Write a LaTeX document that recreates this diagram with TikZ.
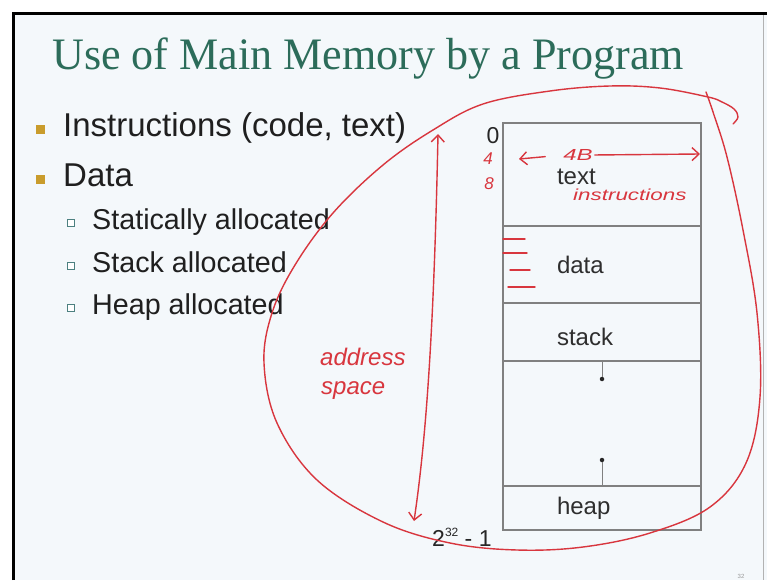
\documentclass[tikz,border=0pt]{standalone}
\usepackage{graphicx}
\usepackage{fontspec}
\setmainfont{Liberation Sans}
\newfontfamily\titlefont{Liberation Serif}
\usetikzlibrary{positioning,arrows.meta}
\definecolor{slidebg}{RGB}{244,248,251}
\definecolor{titlegreen}{RGB}{44,108,90}
\definecolor{bulletgold}{RGB}{201,156,44}
\definecolor{boxgray}{RGB}{128,128,128}
\definecolor{inkred}{RGB}{216,54,62}
\tikzset{
	slide text/.style={anchor=base west, inner sep=0pt, text=black!88},
	item/.style={slide text, font=\fontsize{33}{33}\selectfont},
	subitem/.style={slide text, font=\fontsize{28.7}{28.7}\selectfont},
	mark main/.style={fill=bulletgold, minimum size=9pt, inner sep=0pt},
	mark sub/.style={draw=gray!60!teal, fill=white, minimum size=7.5pt, inner sep=0pt, line width=1pt},
	segment/.style={draw=boxgray, line width=1.1pt, minimum width=198pt,
		text width=90pt, inner xsep=54pt, inner ysep=0pt, outer sep=0pt,
		align=left, font=\fontsize{24}{24}\selectfont, text=black!82},
	growth dot/.style={circle, fill=black!85, minimum size=4.5pt, inner sep=0pt},
	addr/.style={inner sep=0pt, text=black!85, font=\fontsize{23}{23}\selectfont},
	ink/.style={draw=inkred, line width=1.4pt, line cap=round, line join=round},
	hand/.style={text=inkred, inner sep=0pt, font=\itshape\fontsize{#1}{#1}\selectfont},
	hand/.default=18,
	barb/.tip={Straight Barb[length=7pt,width=13pt]}
}

\begin{document}
\begin{tikzpicture}[x=1pt, y=-1pt]
  \useasboundingbox (0,0) rectangle (767,580);
  % slide
  \fill[slidebg] (14,13) rectangle (767,580);
  \draw[black!30, line width=0.6pt] (763,14) -- (763,580);
  \draw[line width=2.6pt] (13.5,580) -- (13.5,13.3) -- (767,13.3);
  \node[anchor=base west, inner sep=0pt, text=titlegreen,
        font=\titlefont\fontsize{45}{45}\selectfont] (title) at (52,70)
        {\scalebox{0.98}[1]{Use of Main Memory by a Program}};

  % bullets
  \node[item] (itemcode) at (63,137) {Instructions (code, text)};
  \node[item] (itemdata) at (63,186) {Data};
  \node[subitem] (substatic) at (92,229) {Statically allocated};
  \node[subitem] (substack)  at (92,272) {Stack allocated};
  \node[subitem] (subheap)   at (92,314) {Heap allocated};
  \node[mark main] (markcode) at (40,130) {};
  \node[mark main] (markdata) at (40,179) {};
  \foreach \y/\n in {223/static, 266/stack, 308/heap}
    \node[mark sub] (mark\n) at (71,\y) {};

  % memory layout
  \node[segment, anchor=north west, minimum height=103pt] (textseg) at (503,123) {\rule{0pt}{21pt}text};
  \node[segment, minimum height=77pt, below=0pt of textseg] (dataseg) {data};
  \node[segment, minimum height=58pt, below=0pt of dataseg] (stackseg) {\rule{0pt}{27.5pt}stack};
  \node[segment, minimum height=125pt, below=0pt of stackseg] (freeseg) {};
  \node[segment, minimum height=44pt, below=0pt of freeseg] (heapseg) {heap};
  \node[growth dot] (stackdot) at (602,379) {};
  \node[growth dot] (heapdot) at (602,460) {};
  \draw[boxgray, line width=1pt] (stackdot) -- (stackdot |- freeseg.north);
  \draw[boxgray, line width=1pt] (heapdot) -- (heapdot |- freeseg.south);
  \node[addr] (lowaddr) at (493,136) {0};
  \node[addr, anchor=base west] (highaddr) at (432,546)
        {2\raisebox{0.42em}{\fontsize{12}{12}\selectfont 32}\;-\;1};

  % handwriting
  \draw[ink] plot[smooth, tension=0.6] coordinates {
    (733,124) (738,117) (734,109) (722,102) (708,97) (660,88) (610,86)
    (550,91) (483,104) (433,130) (383,165) (333,213) (295,265) (272,313)
    (264,363) (277,423) (317,480) (383,522) (450,543) (517,550) (583,547)
    (650,533) (710,507) (746,463) (760,397) (757,313) (743,230) (727,157)
    (713,112) (706,92)};
  \coordinate (addrtop) at (438,134);
  \coordinate (addrbot) at (414,521);
  \draw[ink, barb-barb] (addrtop) .. controls (434,330) and (426,440) .. (addrbot);
  \node[hand=24, anchor=base west] (addrword) at (320,365) {address};
  \node[hand=24, anchor=base west] (spaceword) at (321,394) {space};
  \node[hand=17] (fourbyte) at (488,159) {4};
  \node[hand=17] (eightbyte) at (489,184) {8};
  \node[hand=16] (wordsize) at (578,155) {\scalebox{1.5}[1]{4B}};
  \coordinate (wordleft) at (519,159);
  \coordinate (wordright) at (700,154);
  \draw[ink, -barb, shorten <=18pt] (wordsize.west) -- (wordleft);
  \draw[ink, -barb, shorten <=2pt] (wordsize.east) -- (wordright);
  \node[hand=16, anchor=base west] (instrword) at (573,200)
        {\scalebox{1.4}[1]{instructions}};
  \foreach \y/\a/\b in {239/503/525, 253/503/527, 270/510/530, 287/508/535}
    \draw[ink] (\a,\y) -- (\b,\y);

  \node[inner sep=0pt, text=black!40, font=\fontsize{6}{6}\selectfont] (pageno) at (741,576) {32};
\end{tikzpicture}
\end{document}
